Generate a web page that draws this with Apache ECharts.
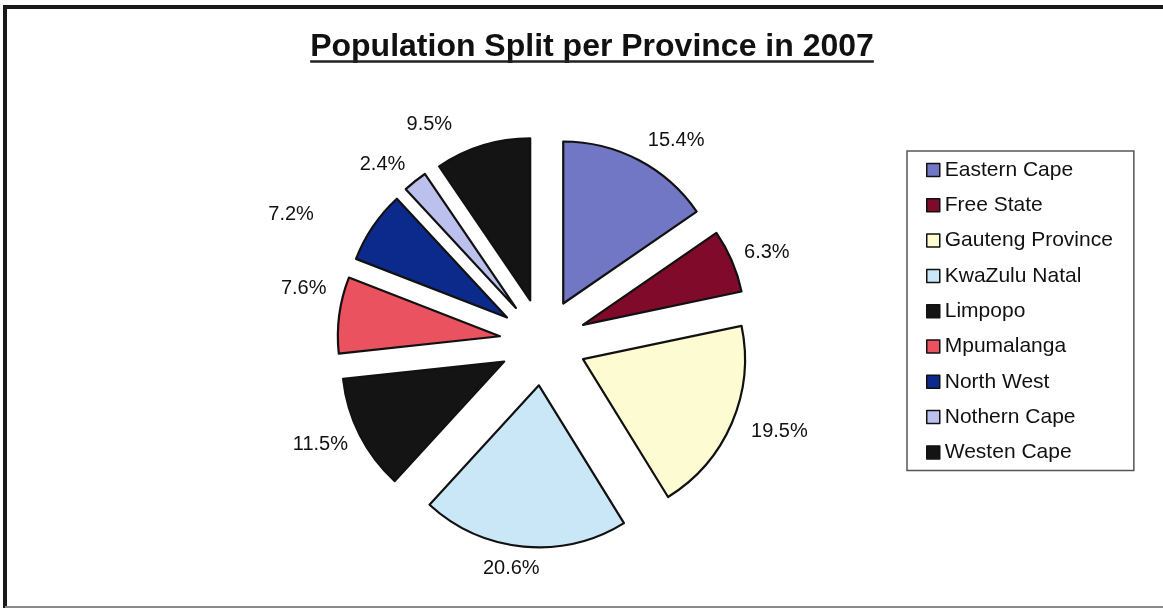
<!DOCTYPE html>
<html>
<head>
<meta charset="utf-8">
<title>Population Split per Province in 2007</title>
<script src="https://cdn.jsdelivr.net/npm/echarts@6/dist/echarts.min.js"></script>
<style>
  html, body { margin: 0; padding: 0; background: #fff; }
  #chart { width: 1163px; height: 609px; }
</style>
</head>
<body>
<div id="chart"></div>
<script>
// Share of the national population per province, 2007 (percent)
const chartTitle = 'Population Split per Province in 2007';
const provinces = [
  'Eastern Cape', 'Free State', 'Gauteng Province', 'KwaZulu Natal', 'Limpopo',
  'Mpumalanga', 'North West', 'Nothern Cape', 'Westen Cape'
];
const shares = [15.4, 6.3, 19.5, 20.6, 11.5, 7.6, 7.2, 2.4, 9.5];
const sliceColors = [
  '#7176c5', '#800a2a', '#fdfbd2', '#c9e7f7', '#141414',
  '#e9525e', '#0b2a8c', '#bcc0ec', '#141414'
];
// horizontal run of each (hidden) label leader, so labels sit where they read best
const leaderRun = [-6, -13, -6, -23, -13, -14, 36, -9, 19];
// blank lines appended under a label, lifting it above its leader end
const labelLift = [0, 0, 0, 0, 0, 2, 0, 0, 0];

const FONT = '"Liberation Sans", Arial, Helvetica, sans-serif';
const TITLE_SIZE = 32;

// width of the title text, used for its underline
function textWidth(text, font) {
  const ctx = document.createElement('canvas').getContext('2d');
  ctx.font = font;
  return ctx.measureText(text).width;
}
const titleW = textWidth(chartTitle, 'bold ' + TITLE_SIZE + 'px ' + FONT);
const titleCx = 592;

const chart = echarts.init(document.getElementById('chart'), null, { renderer: 'canvas' });

const pieData = provinces.map((name, i) => ({
  name: name,
  value: shares[i],
  selected: true,
  itemStyle: { color: sliceColors[i] },
  labelLine: { length2: leaderRun[i] }
}));

chart.setOption({
  animation: false,
  backgroundColor: '#ffffff',
  color: sliceColors,
  legend: {
    orient: 'vertical',
    left: 907,
    top: 151,
    padding: [8, 21, 7, 19],
    itemGap: 13.3,
    itemWidth: 13,
    itemHeight: 13,
    icon: 'rect',
    backgroundColor: '#ffffff',
    borderColor: '#555555',
    borderWidth: 1.5,
    selectedMode: false,
    itemStyle: { borderColor: '#111111', borderWidth: 1.5 },
    textStyle: { fontFamily: FONT, fontSize: 21, lineHeight: 22, color: '#111111' },
    data: provinces
  },
  graphic: [
    // outer frame
    { type: 'line', shape: { x1: 5, y1: 7, x2: 1163, y2: 7 }, style: { stroke: '#1a1a1a', lineWidth: 4 } },
    { type: 'line', shape: { x1: 5, y1: 5, x2: 5, y2: 608 }, style: { stroke: '#1a1a1a', lineWidth: 4 } },
    { type: 'line', shape: { x1: 5, y1: 607, x2: 1163, y2: 607 }, style: { stroke: '#8a8a8a', lineWidth: 2 } },
    // title with underline
    {
      type: 'text',
      x: titleCx,
      y: 31,
      style: {
        text: chartTitle,
        font: 'bold ' + TITLE_SIZE + 'px ' + FONT,
        fill: '#111111',
        textAlign: 'center',
        textVerticalAlign: 'top'
      }
    },
    {
      type: 'line',
      shape: { x1: titleCx - titleW / 2, y1: 61.5, x2: titleCx + titleW / 2, y2: 61.5 },
      style: { stroke: '#222222', lineWidth: 2.5 }
    }
  ],
  series: [{
    type: 'pie',
    center: [543, 342],
    radius: 162,
    startAngle: 90,
    clockwise: true,
    selectedMode: 'multiple',
    selectedOffset: 43.5,
    avoidLabelOverlap: false,
    itemStyle: { borderColor: '#111111', borderWidth: 2.2 },
    select: { itemStyle: { borderColor: '#111111', borderWidth: 2.2 } },
    emphasis: { disabled: true },
    label: {
      show: true,
      position: 'outside',
      fontFamily: FONT,
      fontSize: 20,
      lineHeight: 24,
      color: '#111111',
      formatter: p => p.value.toFixed(1) + '%' + '\n '.repeat(labelLift[p.dataIndex])
    },
    labelLine: { show: false, length: 22, length2: 0 },
    data: pieData
  }]
});
</script>
</body>
</html>
